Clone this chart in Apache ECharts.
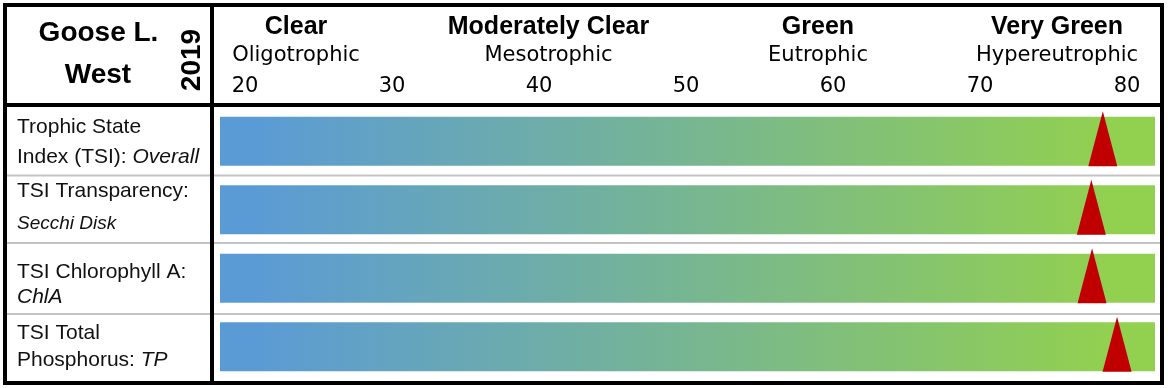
<!DOCTYPE html>
<html><head><meta charset="utf-8">
<script src="https://cdn.jsdelivr.net/npm/echarts@6/dist/echarts.min.js"></script>
<style>html,body{margin:0;padding:0;background:#fff}#c{width:1168px;height:388px}</style>
</head><body><div id="c"></div>
<script>
// ---- data ----
const rowKeys = ['Overall', 'Secchi Disk', 'ChlA', 'TP'];
const tsiValues = [78.35, 77.57, 77.62, 79.32];
const scaleMin = 18.3;
const scaleMax = 81.9;
const tickValues = [20, 30, 40, 50, 60, 70, 80];
const classTitles = ['Clear', 'Moderately Clear', 'Green', 'Very Green'];
const classNames = ['Oligotrophic', 'Mesotrophic', 'Eutrophic', 'Hypereutrophic'];
const rowLine1 = ['Trophic State', 'TSI Transparency:', 'TSI Chlorophyll A:', 'TSI Total'];
const rowLine2 = ['Index (TSI): {i|Overall}', '{s|Secchi Disk}', '{i|ChlA}', 'Phosphorus: {i|TP}'];
const lakeName = ['Goose L.', 'West'];
const yearLabel = '2019';

// ---- layout ----
const SANS = '"Liberation Sans", Arial, sans-serif';
const DV = '"DejaVu Sans", sans-serif';
const classX = [296, 548.5, 818, 1057];
const line1Y = [126.8, 191.7, 272.5, 333.7];
const line2Y = [156.8, 224, 297, 360.2];
const sepY = [175.5, 243, 314];

const chart = echarts.init(document.getElementById('c'), null, {renderer: 'canvas'});
const graphics = [];

sepY.forEach(y => graphics.push({type: 'line', z: 5, shape: {x1: 7, y1: y, x2: 1160, y2: y}, style: {stroke: '#c4c4c4', lineWidth: 2}}));
graphics.push({type: 'rect', z: 20, shape: {x: 5, y: 5, width: 1157, height: 378}, style: {fill: null, stroke: '#000', lineWidth: 4}});
graphics.push({type: 'line', z: 20, shape: {x1: 212, y1: 5, x2: 212, y2: 383}, style: {stroke: '#000', lineWidth: 4}});
graphics.push({type: 'line', z: 20, shape: {x1: 5, y1: 105, x2: 1162, y2: 105}, style: {stroke: '#000', lineWidth: 4}});

graphics.push({type: 'text', z: 30, x: 98.5, y: 33, style: {text: lakeName[0], fontFamily: SANS, fontWeight: 'bold', fontSize: 28, fill: '#000', align: 'center', verticalAlign: 'middle'}});
graphics.push({type: 'text', z: 30, x: 98, y: 75, style: {text: lakeName[1], fontFamily: SANS, fontWeight: 'bold', fontSize: 28, fill: '#000', align: 'center', verticalAlign: 'middle'}});
graphics.push({type: 'text', z: 30, x: 192, y: 60, rotation: Math.PI / 2, style: {text: yearLabel, fontFamily: SANS, fontWeight: 'bold', fontSize: 28, fill: '#000', align: 'center', verticalAlign: 'middle'}});

classTitles.forEach((t, i) => {
  graphics.push({type: 'text', z: 30, x: classX[i], y: 27.5, style: {text: t, fontFamily: SANS, fontWeight: 'bold', fontSize: 25, fill: '#000', align: 'center', verticalAlign: 'middle'}});
  graphics.push({type: 'text', z: 30, x: classX[i], y: 56, style: {text: classNames[i], fontFamily: DV, fontSize: 21, fill: '#000', align: 'center', verticalAlign: 'middle'}});
});

const rich = {
  i: {fontFamily: SANS, fontSize: 21, fontStyle: 'italic', fill: '#111'},
  s: {fontFamily: SANS, fontSize: 19, fontStyle: 'italic', fill: '#111'}
};
rowLine1.forEach((t, i) => {
  graphics.push({type: 'text', z: 30, x: 17, y: line1Y[i], style: {text: t, fontFamily: SANS, fontSize: 21, fill: '#111', align: 'left', verticalAlign: 'middle'}});
  graphics.push({type: 'text', z: 30, x: 17, y: line2Y[i], style: {text: rowLine2[i], rich: rich, fontFamily: SANS, fontSize: 21, fill: '#111', align: 'left', verticalAlign: 'middle'}});
});

const grad = new echarts.graphic.LinearGradient(220, 0, 1155, 0, [
  {offset: 0, color: '#5B9BD5'},
  {offset: 0.04, color: '#5B9BD5'},
  {offset: 0.95, color: '#92D050'},
  {offset: 1, color: '#92D050'}
], true);

chart.setOption({
  animation: false,
  backgroundColor: '#fff',
  grid: {left: 220, right: 13, top: 107, bottom: 7, containLabel: false},
  xAxis: {
    type: 'value', position: 'top', min: scaleMin, max: scaleMax,
    axisLine: {show: false}, axisTick: {show: false}, splitLine: {show: false},
    axisLabel: {customValues: tickValues, fontFamily: DV, fontSize: 21, color: '#000', margin: 20, verticalAlign: 'middle'}
  },
  yAxis: {type: 'category', data: rowKeys, inverse: true, show: false},
  series: [
    {type: 'bar', data: rowKeys.map(() => scaleMax), barWidth: 49, itemStyle: {color: grad}, silent: true, z: 2},
    {type: 'scatter', data: tsiValues.map((v, i) => [v, i]), symbol: 'triangle', symbolSize: [29, 55], symbolOffset: [0, -2.5], itemStyle: {color: '#C00000', opacity: 1}, z: 4}
  ],
  graphic: graphics
});
</script></body></html>
